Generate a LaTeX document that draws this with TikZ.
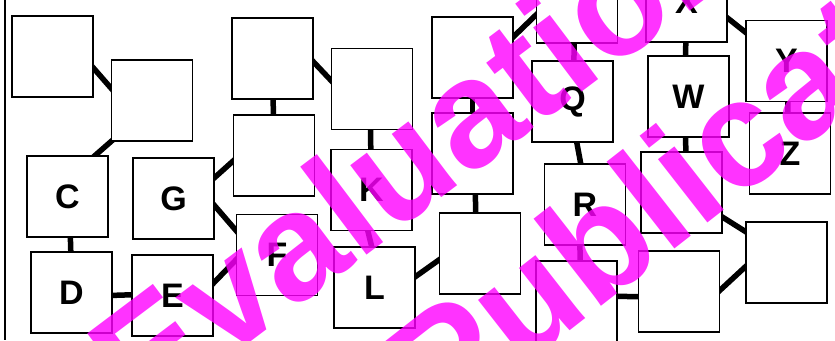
\documentclass[tikz,border=0pt]{standalone}
\usepackage{fontspec}
\setmainfont{Liberation Sans}
\usepackage{tikz}
\usetikzlibrary{positioning,calc,backgrounds}
\definecolor{stampink}{RGB}{255,0,255}

\begin{document}
\begin{tikzpicture}[x=1pt, y=-1pt]
    % Define styles
    \tikzstyle{cell} = [rectangle, draw=black, line width=1.4pt, fill=white, minimum width=81pt, minimum height=81pt, inner sep=0pt, font=\fontsize{34}{34}\selectfont\bfseries]
    \tikzstyle{link} = [line width=5.5pt, shorten <=-4pt, shorten >=-4pt]
    \tikzstyle{stamp} = [text=stampink, text opacity=0.8, anchor=base west, inner sep=0pt, font=\fontsize{152}{152}\selectfont\bfseries]

    \useasboundingbox (0,0) rectangle (835,340);
    \clip (0,0) rectangle (835,340);

    % Left edge of the sheet
    \draw[line width=1.5pt] (5,0) -- (5,340);

    % Boxes, column by column
    \node[cell] (a1) at (52.5,56.5) {};
    \node[cell] (b1) at (152,100.5) {};
    \node[cell] (C) at (67.5,196.5) {C};
    \node[cell] (D) at (71.5,292.5) {D};
    \node[cell] (G) at (173.5,198.5) {G};
    \node[cell] (E) at (172.5,295.5) {E};
    \node[cell] (h1) at (272.5,58.5) {};
    \node[cell] (h2) at (274,155.5) {};
    \node[cell] (F) at (277,255) {F};
    \node[cell] (i1) at (372,89) {};
    \node[cell] (K) at (371.5,190) {K};
    \node[cell] (L) at (374.5,287.5) {L};
    \node[cell] (j1) at (472.5,57.5) {};
    \node[cell] (j2) at (472.5,153.5) {};
    \node[cell] (m1) at (480,253.5) {};
    \node[cell] (t1) at (577,2.5) {};
    \node[cell] (Q) at (572.5,101.5) {Q};
    \node[cell] (R) at (585,204.5) {R};
    \node[cell] (s1) at (576.5,301.5) {};
    \node[cell] (X) at (686.5,1.5) {X};
    \node[cell] (W) at (688.5,96.5) {W};
    \node[cell] (n1) at (681.5,192.5) {};
    \node[cell] (p1) at (679,291.5) {};
    \node[cell] (Y) at (786.5,61) {Y};
    \node[cell] (Z) at (790,153.5) {Z};
    \node[cell] (o1) at (786.5,262.5) {};

    % Links (behind the boxes)
    \begin{pgfonlayer}{background}
    \draw[link] (a1.-16) -- (b1.163);
    \draw[link] (b1.225) -- (C.56);
    \draw[link] (C.-86) -- (D.91);
    \draw[link] (D.-4) -- (E.179);
    \draw[link] (G.27) -- (h2.188);
    \draw[link] (G.-10) -- (F.149);
    \draw[link] (E.17) -- (F.187);
    \draw[link] (h1.-5) -- (i1.168);
    \draw[link] (h1.-89) -- (h2.91);
    \draw[link] (i1.-92) -- (K.91);
    \draw[link] (K.-95) -- (L.94);
    \draw[link] (L.15) -- (m1.189);
    \draw[link] (j1.-90) -- (j2.90);
    \draw[link] (j2.-86) -- (m1.96);
    \draw[link] (j1.27) -- (t1.197);
    \draw[link] (t1.-94) -- (Q.88);
    \draw[link] (Q.-84) -- (R.96);
    \draw[link] (R.-97) -- (s1.85);
    \draw[link] (s1.7) -- (p1.187);
    \draw[link] (X.-91) -- (W.94);
    \draw[link] (X.-22) -- (Y.145);
    \draw[link] (W.-94) -- (n1.84);
    \draw[link] (Y.-88) -- (Z.93);
    \draw[link] (n1.-31) -- (o1.143);
    \draw[link] (p1.2) -- (o1.186);
    \end{pgfonlayer}

    % Watermark
    \node[stamp, rotate=37] (wm1) at (142,424) {Evaluation};
    \node[stamp, rotate=38] (wm2) at (440,432) {Publication};
\end{tikzpicture}
\end{document}
